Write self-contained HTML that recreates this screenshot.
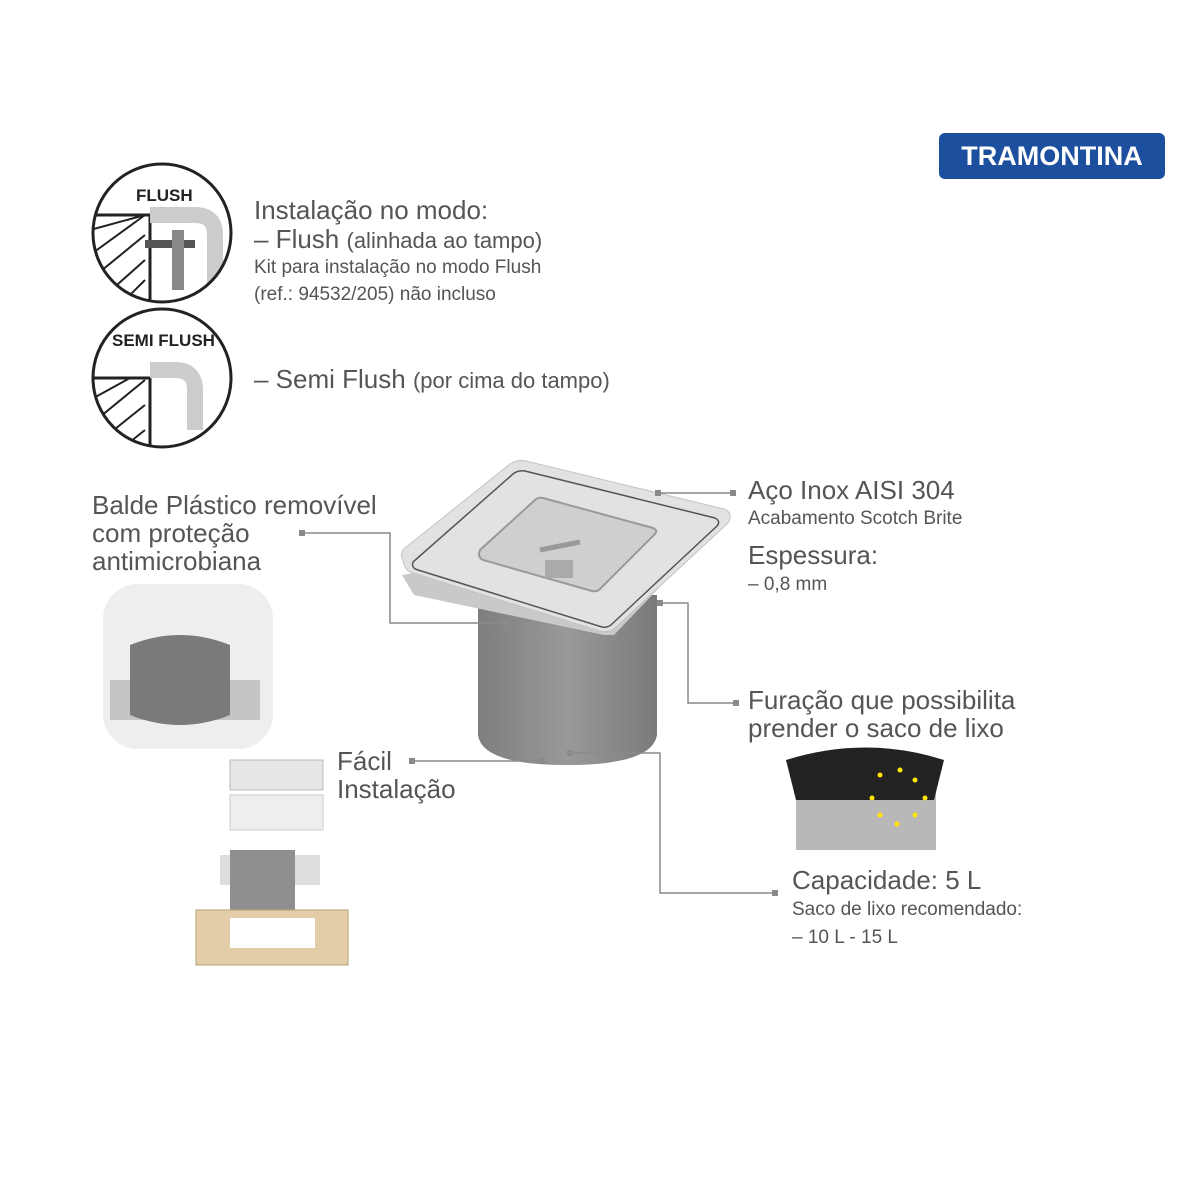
<!DOCTYPE html>
<html><head><meta charset="utf-8"><style>
body{margin:0;background:#fff;}
.c{position:relative;width:1200px;height:1200px;font-family:"Liberation Sans",sans-serif;color:#555;overflow:hidden}
.t{position:absolute;white-space:nowrap;line-height:1}
</style></head><body><div class="c">
<div style="position:absolute;left:939px;top:133px;width:226px;height:46px;background:#1d4f9f;border-radius:6px;color:#fff;font-weight:bold;font-size:27px;text-align:center;line-height:46px">TRAMONTINA</div>

<svg width="1200" height="1200" style="position:absolute;left:0;top:0">
<defs><clipPath id="c1"><circle cx="162" cy="233" r="69"/></clipPath><clipPath id="c2"><circle cx="162" cy="378" r="69"/></clipPath>
<linearGradient id="g" x1="0" x2="1"><stop offset="0" stop-color="#7e7e7e"/><stop offset=".5" stop-color="#999"/><stop offset="1" stop-color="#7a7a7a"/></linearGradient></defs>
<g clip-path="url(#c1)"><path d="M90 215h60v90H90z" fill="#fff" stroke="#222" stroke-width="3"/>
<path d="M90 230l55-15M90 255l55-40M90 280l55-45M100 300l45-40M125 300l20-20" stroke="#222" stroke-width="2"/>
<path d="M150 215h45q20 0 20 20v50" fill="none" stroke="#ccc" stroke-width="16"/>
<rect x="145" y="240" width="50" height="8" fill="#555"/><rect x="172" y="230" width="12" height="60" fill="#888"/></g>
<circle cx="162" cy="233" r="69" fill="none" stroke="#222" stroke-width="3"/>
<g clip-path="url(#c2)"><path d="M90 378h60v80H90z" fill="#fff" stroke="#222" stroke-width="3"/>
<path d="M90 400l40-22M90 425l55-45M95 445l50-40M120 450l25-20" stroke="#222" stroke-width="2"/>
<path d="M150 370h25q20 0 20 20v40" fill="none" stroke="#ccc" stroke-width="16"/></g>
<circle cx="162" cy="378" r="69" fill="none" stroke="#222" stroke-width="3"/>
<!-- bucket -->
<path d="M478 595h179v140q-5 30-90 30t-89-30z" fill="url(#g)"/>
<!-- lid -->
<path d="M402 575l12 20 190 40 10 0 110-115 0-5z" fill="#c9c9c9"/>
<path d="M403 560q-4-6 2-12l105-84q8-5 16-3l198 48q10 4 4 14l-112 104q-6 6-16 4L410 572q-6-3-7-12z" fill="#e2e2e2" stroke="#c4c4c4"/>
<path d="M413 562l100-88q5-4 12-3l190 47q6 3 2 8l-105 98q-4 4-10 3L418 570q-7-2-5-8z" fill="none" stroke="#555" stroke-width="1.5"/>
<path d="M480 550l55-50q3-3 8-2l110 30q5 2 2 6l-55 55q-3 3-8 2L483 560q-6-3-3-10z" fill="#cfcfcf" stroke="#999" stroke-width="2"/>
<path d="M540 550l40-8" stroke="#999" stroke-width="5"/>
<rect x="545" y="560" width="28" height="18" fill="#aaa"/>
<g fill="none" stroke="#8a8a8a" stroke-width="1.5">
<path d="M302 533h88v90h115M658 493h75M660 603h28v100h48M412 761h130M572 753h88v140h115"/></g>
<g fill="#8a8a8a"><rect x="299" y="530" width="6" height="6"/><rect x="730" y="490" width="6" height="6"/><rect x="733" y="700" width="6" height="6"/><rect x="409" y="758" width="6" height="6"/><rect x="772" y="890" width="6" height="6"/><rect x="655" y="490" width="6" height="6"/><rect x="502" y="620" width="6" height="6"/><rect x="539" y="758" width="6" height="6"/><rect x="567" y="750" width="6" height="6"/><rect x="657" y="600" width="6" height="6"/></g>
<!-- photo -->
<rect x="103" y="584" width="170" height="165" rx="35" fill="#eee"/>
<path d="M110 680h150v40H110z" fill="#c5c5c5"/>
<path d="M130 645q50-20 100 0v70q-50 20-100 0z" fill="#7a7a7a"/>
<!-- install -->
<rect x="230" y="760" width="93" height="30" fill="#e6e6e6" stroke="#bbb"/>
<rect x="230" y="795" width="93" height="35" fill="#eee" stroke="#ccc"/>
<path d="M220 855h100v30H220z" fill="#ddd"/>
<path d="M230 850h65v85h-65z" fill="#8f8f8f"/>
<path d="M196 910h152v55H196z" fill="#e3cda9" stroke="#b8a27a"/>
<rect x="230" y="918" width="85" height="30" fill="#fff"/>
<!-- bag -->
<path d="M796 790h140v60H796z" fill="#b8b8b8"/>
<path d="M786 760q80-25 158 0l-10 40H796z" fill="#222"/>
<g fill="#ffe600"><circle cx="880" cy="775" r="2.5"/><circle cx="900" cy="770" r="2.5"/><circle cx="915" cy="780" r="2.5"/><circle cx="925" cy="798" r="2.5"/><circle cx="915" cy="815" r="2.5"/><circle cx="897" cy="824" r="2.5"/><circle cx="880" cy="815" r="2.5"/><circle cx="872" cy="798" r="2.5"/></g>
</svg>
<div class="t" style="left:136px;top:187px;font-size:17px;font-weight:bold;color:#222">FLUSH</div>
<div class="t" style="left:112px;top:332px;font-size:17px;font-weight:bold;color:#222">SEMI FLUSH</div>
<div class="t" style="left:254px;top:197px;font-size:26px">Instalação no modo:</div>
<div class="t" style="left:254px;top:226px;font-size:26px">– Flush <span style="font-size:22px">(alinhada ao tampo)</span></div>
<div class="t" style="left:254px;top:258px;font-size:19px">Kit para instalação no modo Flush</div>
<div class="t" style="left:254px;top:285px;font-size:19px">(ref.: 94532/205) não incluso</div>
<div class="t" style="left:254px;top:366px;font-size:26px">– Semi Flush <span style="font-size:22px">(por cima do tampo)</span></div>
<div class="t" style="left:92px;top:491px;font-size:26px;line-height:28px">Balde Plástico removível<br>com proteção<br>antimicrobiana</div>
<div class="t" style="left:748px;top:477px;font-size:26px">Aço Inox AISI 304</div>
<div class="t" style="left:748px;top:509px;font-size:19px">Acabamento Scotch Brite</div>
<div class="t" style="left:748px;top:542px;font-size:26px">Espessura:</div>
<div class="t" style="left:748px;top:575px;font-size:19px">– 0,8 mm</div>
<div class="t" style="left:748px;top:686px;font-size:26px;line-height:28px">Furação que possibilita<br>prender o saco de lixo</div>
<div class="t" style="left:337px;top:747px;font-size:26px;line-height:28px">Fácil<br>Instalação</div>
<div class="t" style="left:792px;top:867px;font-size:26px">Capacidade: 5 L</div>
<div class="t" style="left:792px;top:900px;font-size:19px">Saco de lixo recomendado:</div>
<div class="t" style="left:792px;top:928px;font-size:19px">– 10 L - 15 L</div>
</div></body></html>
